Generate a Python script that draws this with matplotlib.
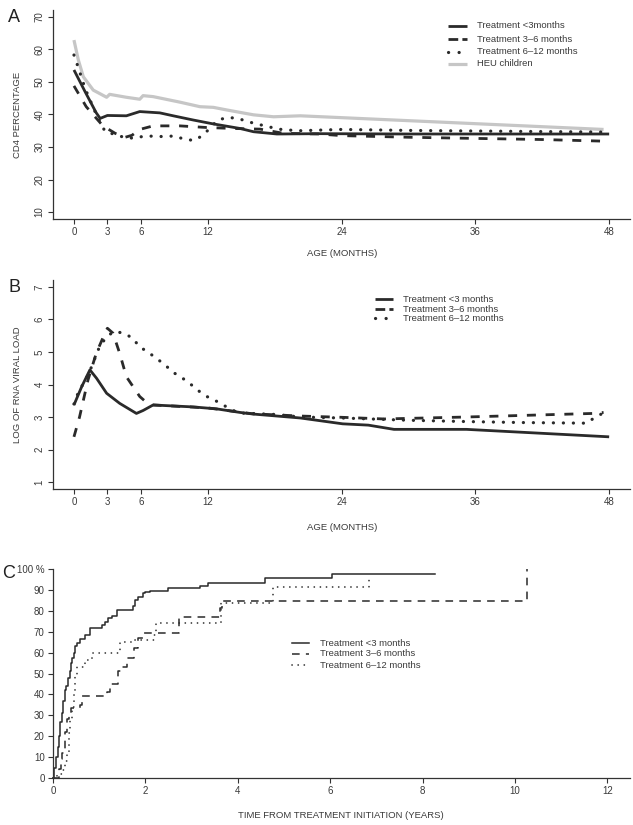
import matplotlib
matplotlib.use('Agg')
import matplotlib.pyplot as plt
from matplotlib.lines import Line2D

plt.rcParams['font.family'] = ['Liberation Sans', 'DejaVu Sans']
plt.rcParams['lines.scale_dashes'] = False

# ---------------- Panel A: CD4 percentage by age (months) ----------------
a_lt3_x = [0, 1.0, 2.0, 2.35, 3.0, 4.7, 5.9, 7.7, 8.9, 10.7, 12.5, 14.9, 16.1, 18.2, 22, 30, 40, 48]
a_lt3_y = [53.7, 47.0, 40.5, 38.8, 39.7, 39.6, 40.9, 40.5, 39.6, 38.3, 37.1, 35.7, 34.7, 34.0, 34.1, 34.0, 34.0, 34.0]

a_36_x = [0, 1.1, 2.6, 3.7, 4.6, 5.2, 5.9, 7.1, 9.5, 11.9, 14.3, 16.7, 18.8, 22, 24, 30, 35, 42, 47.5]
a_36_y = [48.8, 42.4, 36.5, 34.2, 33.0, 33.6, 35.4, 36.5, 36.5, 36.0, 35.7, 35.5, 34.2, 34.0, 33.5, 33.0, 32.7, 32.3, 31.8]

a_612_x = [0, 0.3, 1.0, 2.0, 2.8, 3.65, 4.55, 5.45, 6.35, 8.1, 9.0, 9.9, 10.8, 11.6, 12.9, 13.8, 14.7, 15.6,
           16.5, 17.4, 18.3, 20.1, 24, 30, 40, 47.5]
a_612_y = [58.3, 55.3, 48.0, 40.0, 34.7, 33.9, 32.9, 32.7, 33.4, 33.2, 33.4, 32.4, 32.0, 33.7, 38.3, 39.1, 38.8, 37.8,
           37.0, 36.3, 35.5, 35.0, 35.4, 35.1, 34.8, 34.6]

a_heu_x = [0, 0.39, 0.84, 1.73, 2.93, 3.2, 4.7, 5.9, 6.2, 7.1, 9.5, 11.3, 12.5, 13.7, 16.1, 17.9, 20.3, 35.2, 47.5]
a_heu_y = [62.9, 56.8, 51.6, 47.5, 45.3, 46.2, 45.3, 44.7, 45.8, 45.5, 43.8, 42.4, 42.2, 41.4, 39.9, 39.3, 39.6, 37.3, 35.4]

# ---------------- Panel B: log RNA viral load by age (months) ----------------
b_lt3_x = [0, 0.69, 1.43, 2.03, 2.93, 4.1, 5.6, 6.2, 7.1, 8.9, 10.7, 12.8, 14.9, 16.1, 20.3, 24.1, 26.4, 28.7, 35.2, 48]
b_lt3_y = [3.37, 3.93, 4.45, 4.19, 3.73, 3.42, 3.11, 3.20, 3.37, 3.34, 3.31, 3.25, 3.14, 3.09, 2.97, 2.79, 2.75, 2.62, 2.62, 2.39]

b_36_x = [0, 0.5, 1.26, 2.0, 2.84, 3.0, 3.5, 4.1, 4.7, 5.9, 6.5, 7.1, 12, 16, 20.3, 24.1, 27.8, 35.2, 46.6, 47.5]
b_36_y = [2.39, 3.0, 4.14, 4.96, 5.63, 5.73, 5.58, 4.96, 4.24, 3.63, 3.45, 3.37, 3.28, 3.10, 3.03, 2.99, 2.94, 3.00, 3.11, 3.14]

b_612_x = [0, 0.36, 1.35, 2.3, 3.0, 3.65, 4.46, 5.3, 5.86, 6.6, 7.4, 8.2, 8.76, 9.5, 10.3, 11.0, 11.8, 12.6, 13.4,
           14.1, 15, 18, 20.3, 24, 30, 35.2, 40, 46, 46.6, 47.5]
b_612_y = [3.4, 3.73, 4.35, 5.17, 5.5, 5.63, 5.58, 5.42, 5.16, 5.01, 4.8, 4.6, 4.4, 4.25, 4.06, 3.85, 3.65, 3.52, 3.37,
           3.22, 3.12, 3.08, 3.00, 2.97, 2.90, 2.86, 2.83, 2.81, 2.96, 3.13]

# ---------------- Panel C: cumulative % by time from treatment initiation (years) ----------------
c_lt3_t = [0, 0.03, 0.07, 0.10, 0.13, 0.16, 0.19, 0.22, 0.25, 0.29, 0.33, 0.36, 0.39, 0.42, 0.45, 0.48, 0.52,
           0.58, 0.69, 0.80, 1.05, 1.12, 1.20, 1.28, 1.38, 1.67, 1.74, 1.78, 1.85, 1.95, 2.0, 2.1, 2.5, 3.18,
           3.36, 4.59, 6.03, 8.27]
c_lt3_p = [0, 5, 10, 15, 20, 27, 31, 37, 42, 44, 47.8, 51, 55, 57.5, 60, 63, 64.5,
           66.5, 68.4, 71.6, 73, 74.5, 76.4, 77.5, 80.4, 80.4, 82.5, 85.2, 86.5, 88.7, 89, 89.7, 90.8, 92,
           93.1, 95.5, 97.6, 97.6]

c_36_t = [0, 0.12, 0.17, 0.20, 0.25, 0.30, 0.34, 0.38, 0.58, 0.63, 1.16, 1.24, 1.40, 1.50, 1.60, 1.75, 1.84,
          1.96, 2.72, 3.61, 3.65, 10.27]
c_36_p = [0, 4.5, 9, 12, 22, 28, 31, 33.4, 35, 39, 41.3, 45, 51, 53.3, 57.3, 62, 67,
          69.6, 77.2, 81.2, 84.9, 100]

c_612_t = [0, 0.09, 0.20, 0.27, 0.30, 0.34, 0.36, 0.41, 0.45, 0.48, 0.53, 0.70, 0.84, 1.44, 1.71, 2.18, 2.22,
           3.64, 4.77, 6.84]
c_612_p = [0, 2, 4, 8, 12, 21.5, 28, 34, 40.6, 48.6, 53.3, 56.5, 59.7, 65.3, 66, 68.5, 74,
           83.6, 91.5, 97.1]

age_ticks = [0, 3, 6, 12, 24, 36, 48]
cd4_ticks = [10, 20, 30, 40, 50, 60, 70]
vl_ticks = [1, 2, 3, 4, 5, 6, 7]
year_ticks = [0, 2, 4, 6, 8, 10, 12]
pct_ticks = [0, 10, 20, 30, 40, 50, 60, 70, 80, 90, 100]
pct_labels = ['0', '10', '20', '30', '40', '50', '60', '70', '80', '90', '100 %']

lab_a = ['Treatment <3months', 'Treatment 3\u20136 months', 'Treatment 6\u201312 months', 'HEU children']
lab_bc = ['Treatment <3 months', 'Treatment 3\u20136 months', 'Treatment 6\u201312 months']

# ---------------- figure ----------------
W, H = 633, 825
fig = plt.figure(figsize=(W / 100, H / 100), dpi=100)


def fx(x):
    return x / W


def fy(y):
    return 1 - y / H


def make_axes(left, top, right, bottom):
    return fig.add_axes([fx(left), fy(bottom), (right - left) / W, (bottom - top) / H])


INK = '#2a2a2a'
TXT = '#3a3a3a'
GREY = '#c6c6c6'

thick_solid = dict(color=INK, lw=2.0, solid_capstyle='butt')
thick_dash = dict(color=INK, lw=2.0, dashes=(6.5, 7.0), dash_capstyle='butt')
thick_dot = dict(color=INK, lw=2.3, dashes=(0.1, 7.1), dash_capstyle='round')
heu_style = dict(color=GREY, lw=2.3, solid_capstyle='butt')

thin_solid = dict(color=INK, lw=1.1)
thin_dash = dict(color=INK, lw=1.1, dashes=(5.5, 4.5), dash_capstyle='butt')
thin_dot = dict(color=INK, lw=1.2, dashes=(0.1, 4.3), dash_capstyle='round')


def style_axes(ax):
    for s in ('top', 'right'):
        ax.spines[s].set_visible(False)
    for s in ('left', 'bottom'):
        ax.spines[s].set_color('#333333')
        ax.spines[s].set_linewidth(0.9)
    ax.tick_params(direction='out', length=3.5, width=0.8, color='#333333',
                   labelcolor=TXT, labelsize=7, pad=2.5)


# Panel A
axA = make_axes(53, 10, 630, 219)
style_axes(axA)
axA.plot(a_heu_x, a_heu_y, **heu_style)
axA.plot(a_612_x, a_612_y, **thick_dot)
axA.plot(a_36_x, a_36_y, **thick_dash)
axA.plot(a_lt3_x, a_lt3_y, **thick_solid)
axA.set_xlim(-1.88, 49.87)
axA.set_ylim(7.85, 72.15)
axA.set_xticks(age_ticks)
axA.set_yticks(cd4_ticks)
axA.tick_params(axis='y', labelrotation=90)
for t in axA.get_yticklabels():
    t.set_va('center')

# Panel B
axB = make_axes(53, 280, 630, 489)
style_axes(axB)
axB.plot(b_612_x, b_612_y, **thick_dot)
axB.plot(b_36_x, b_36_y, **thick_dash)
axB.plot(b_lt3_x, b_lt3_y, **thick_solid)
axB.set_xlim(-1.88, 49.87)
axB.set_ylim(0.785, 7.215)
axB.set_xticks(age_ticks)
axB.set_yticks(vl_ticks)
axB.tick_params(axis='y', labelrotation=90)
for t in axB.get_yticklabels():
    t.set_va('center')

# Panel C
axC = make_axes(53, 569, 630, 778)
style_axes(axC)
axC.plot(c_612_t, c_612_p, drawstyle='steps-post', clip_on=False, **thin_dot)
axC.plot(c_36_t, c_36_p, drawstyle='steps-post', clip_on=False, **thin_dash)
axC.plot(c_lt3_t, c_lt3_p, drawstyle='steps-post', clip_on=False, **thin_solid)
axC.set_xlim(0, 12.49)
axC.set_ylim(0, 100)
axC.set_xticks(year_ticks)
axC.set_yticks(pct_ticks)
axC.set_yticklabels(pct_labels)

# Panel letters and axis labels
fig.text(fx(14), fy(18), 'A', fontsize=13, color='#222222', ha='center', va='center')
fig.text(fx(14), fy(288), 'B', fontsize=13, color='#222222', ha='center', va='center')
fig.text(fx(9), fy(574), 'C', fontsize=13, color='#222222', ha='center', va='center')

fig.text(fx(18), fy(115), 'CD4 PERCENTAGE', rotation=90, fontsize=6.8, color=TXT, ha='center', va='center')
fig.text(fx(18), fy(385), 'LOG OF RNA VIRAL LOAD', rotation=90, fontsize=6.8, color=TXT, ha='center', va='center')
fig.text(fx(342), fy(254), 'AGE (MONTHS)', fontsize=6.8, color=TXT, ha='center', va='center')
fig.text(fx(342), fy(527), 'AGE (MONTHS)', fontsize=6.8, color=TXT, ha='center', va='center')
fig.text(fx(341), fy(815), 'TIME FROM TREATMENT INITIATION (YEARS)', fontsize=6.8, color=TXT,
         ha='center', va='center')


def legend(rows, x0, x1, xt, labels, styles):
    for y, lab, st in zip(rows, labels, styles):
        fig.add_artist(Line2D([fx(x0), fx(x1)], [fy(y), fy(y)], transform=fig.transFigure, **st))
        fig.text(fx(xt), fy(y), lab, fontsize=6.8, color=TXT, ha='left', va='center')


legend([26, 39, 52, 64], 448, 467, 477, lab_a,
       [thick_solid, dict(thick_dash, dashes=(7, 3)), dict(thick_dot, dashes=(0.1, 7.5)), heu_style])
legend([299, 309, 318], 375, 393, 403, lab_bc,
       [thick_solid, dict(thick_dash, dashes=(7, 3)), dict(thick_dot, dashes=(0.1, 7.5))])
legend([643, 654, 665], 292, 309, 320, lab_bc,
       [thin_solid, thin_dash, thin_dot])

fig.savefig('out.png', dpi=100)
